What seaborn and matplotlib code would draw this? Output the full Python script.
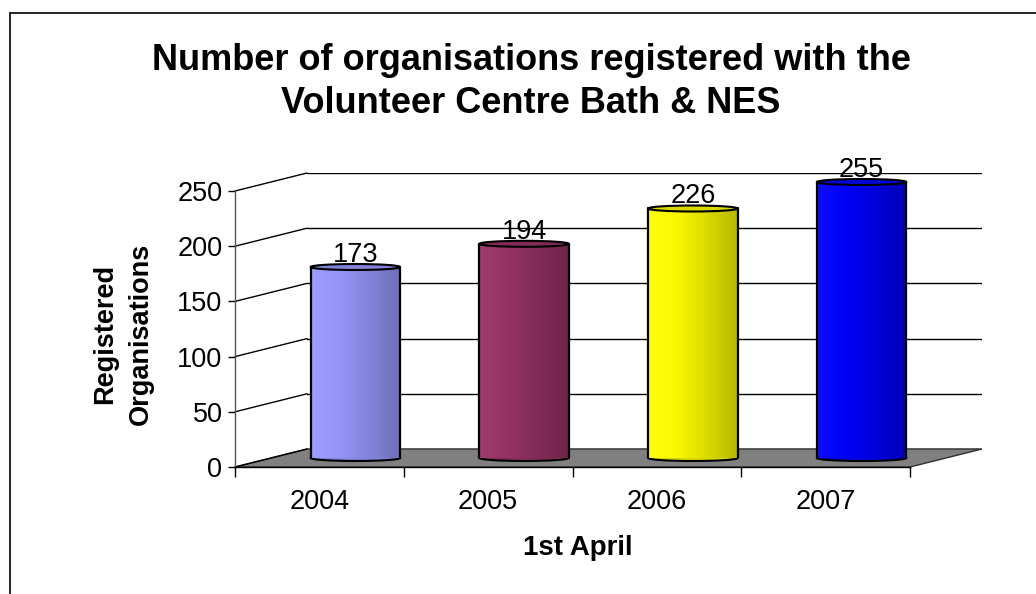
import numpy as np
import pandas as pd
import matplotlib
matplotlib.use("Agg")
import matplotlib.pyplot as plt
import seaborn as sns
from matplotlib.patches import Ellipse, Polygon
from matplotlib.lines import Line2D
from matplotlib.colors import LinearSegmentedColormap, to_rgb

# ---- data ----
years = ["2004", "2005", "2006", "2007"]
registered = [173, 194, 226, 255]
bar_colors = ["#9999FF", "#993366", "#FFFF00", "#0000FF"]
yticks = [0, 50, 100, 150, 200, 250]
title = "Number of organisations registered with the\nVolunteer Centre Bath & NES"
xlabel = "1st April"
ylabel = "Registered\nOrganisations"

sns.set_theme(style="white")
plt.rcParams["font.family"] = ["Liberation Sans", "DejaVu Sans"]
plt.rcParams["text.color"] = "black"
plt.rcParams["axes.labelcolor"] = "black"
plt.rcParams["xtick.color"] = "black"
plt.rcParams["ytick.color"] = "black"

W, H = 1036, 594
fig = plt.figure(figsize=(W / 100, H / 100), dpi=100)
fig.patch.set_facecolor("white")

# geometry (pixels): front plane, middle plane (bars), back wall
front_left, front_bottom = 235, 467
plane_w, plane_h = 675, 276
dxp, dyp = 36, 9  # half depth offset

def ax_rect(left, bottom):
    return [left / W, (H - bottom) / H, plane_w / W, plane_h / H]

ax_back = fig.add_axes(ax_rect(front_left + 2 * dxp, front_bottom - 2 * dyp))
ax_mid = fig.add_axes(ax_rect(front_left + dxp, front_bottom - dyp))
ax_front = fig.add_axes(ax_rect(front_left, front_bottom))

ymax = yticks[-1]
n = len(years)

# back wall gridlines
ax_back.set_xlim(-0.5, n - 0.5)
ax_back.set_ylim(0, ymax)
ax_back.set_yticks(yticks)
ax_back.set_xticks([])
ax_back.tick_params(left=False, labelleft=False)
ax_back.grid(axis="y", color="black", lw=1.0)
for s in ax_back.spines.values():
    s.set_visible(False)
ax_back.patch.set_alpha(0)

# middle plane: bars
df = pd.DataFrame({"year": years, "value": registered})
sns.barplot(data=df, x="year", y="value", hue="year", palette=bar_colors,
            width=0.53, legend=False, ax=ax_mid, linewidth=0, zorder=2)
ax_mid.set_xlim(-0.5, n - 0.5)
ax_mid.set_ylim(0, ymax)
ax_mid.axis("off")
ax_mid.patch.set_alpha(0)

units_x = 1.0 / (plane_w / n)     # data per pixel (x)
units_y = ymax / plane_h          # data per pixel (y)
dX, dY = dxp * units_x, dyp * units_y

# floor
floor = Polygon([(-0.5 - dX, -dY), (n - 0.5 - dX, -dY), (n - 0.5 + dX, dY), (-0.5 + dX, dY)],
                closed=True, facecolor="#808080", edgecolor="#333333", lw=1.0,
                clip_on=False, zorder=0.5)
ax_mid.add_patch(floor)
# left wall lines
for v in yticks:
    ax_mid.plot([-0.5 - dX, -0.5 + dX], [v - dY, v + dY], color="black", lw=1.0,
                clip_on=False, zorder=0.6)

# cylinder shading
bars = sorted([p for p in ax_mid.patches if p is not floor and p.get_height() > 0],
              key=lambda p: p.get_x())
ell_h = 6 * units_y
grad = np.linspace(0, 1, 128).reshape(1, -1)
for p, c, v in zip(bars, bar_colors, registered):
    x0, w = p.get_x(), p.get_width()
    top = min(p.get_height(), ymax)
    rgb = np.array(to_rgb(c))
    light = np.clip(rgb * 1.0 + (1 - rgb) * 0.05, 0, 1)
    dark = rgb * 0.72
    cmap = LinearSegmentedColormap.from_list("cyl", [light, rgb * 0.97, rgb * 0.85, dark])
    im = ax_mid.imshow(grad, extent=[x0, x0 + w, 0, top], aspect="auto", cmap=cmap,
                       interpolation="bilinear", zorder=2.5)
    im.set_clip_path(p)
    # bottom ellipse
    ax_mid.add_patch(Ellipse((x0 + w / 2, 0), w, ell_h, facecolor=rgb * 0.85,
                             edgecolor="black", lw=1.5, zorder=1.9, clip_on=False))
    # sides
    ax_mid.plot([x0, x0], [0, top], color="black", lw=1.6, zorder=3)
    ax_mid.plot([x0 + w, x0 + w], [0, top], color="black", lw=1.6, zorder=3)
    # top ellipse
    ax_mid.add_patch(Ellipse((x0 + w / 2, top), w, ell_h, facecolor=rgb * 0.85,
                             edgecolor="black", lw=1.5, zorder=3.5, clip_on=False))
    ax_mid.annotate(str(v), xy=(x0 + w / 2, top), xytext=(0, 5), textcoords="offset pixels",
                    ha="center", va="baseline", fontsize=19.5, zorder=5)
ax_mid.set_xlim(-0.5, n - 0.5)
ax_mid.set_ylim(0, ymax)

# front axes: ticks and labels
ax_front.set_xlim(-0.5, n - 0.5)
ax_front.set_ylim(0, ymax)
ax_front.patch.set_alpha(0)
for side in ["top", "right"]:
    ax_front.spines[side].set_visible(False)
for side in ["left", "bottom"]:
    ax_front.spines[side].set_color("black")
    ax_front.spines[side].set_linewidth(1.0)
ax_front.spines["left"].set_color("#555555")
ax_front.set_yticks(yticks)
ax_front.set_yticklabels([str(t) for t in yticks])
ax_front.set_xticks(np.arange(-0.5, n, 1.0))
ax_front.set_xticklabels([])
ax_front.set_xticks(np.arange(n), minor=True)
ax_front.set_xticklabels(years, minor=True)
ax_front.tick_params(axis="y", which="major", direction="out", length=5, width=1,
                     color="black", pad=4, labelsize=19.5, left=True)
ax_front.tick_params(axis="x", which="major", direction="out", length=7, width=1,
                     color="black", bottom=True)
ax_front.tick_params(axis="x", which="minor", length=0, pad=16, labelsize=19.5)
ax_front.set_xlabel(xlabel, fontsize=20, fontweight="bold")
ax_front.set_ylabel(ylabel, fontsize=19.5, fontweight="bold", linespacing=1.45)
ax_front.xaxis.label.set_va("center")
ax_front.yaxis.label.set_va("center")
ax_front.yaxis.label.set_ha("center")
ax_front.xaxis.set_label_coords((578 - front_left) / plane_w, (front_bottom - 548) / plane_h)
ax_front.yaxis.set_label_coords((123 - front_left) / plane_w, (front_bottom - 334) / plane_h)
ax_front.grid(False)

# title
fig.text(531 / W, 1 - 82 / H, title, ha="center", va="center", fontsize=26,
         fontweight="bold", linespacing=1.3)

# chart frame
fig.add_artist(Line2D([10 / W, 10 / W], [0, 1 - 13 / H], color="black", lw=1.2,
                      transform=fig.transFigure))
fig.add_artist(Line2D([10 / W, 1], [1 - 13 / H, 1 - 13 / H], color="black", lw=1.2,
                      transform=fig.transFigure))

fig.savefig("out.png", dpi=100)
